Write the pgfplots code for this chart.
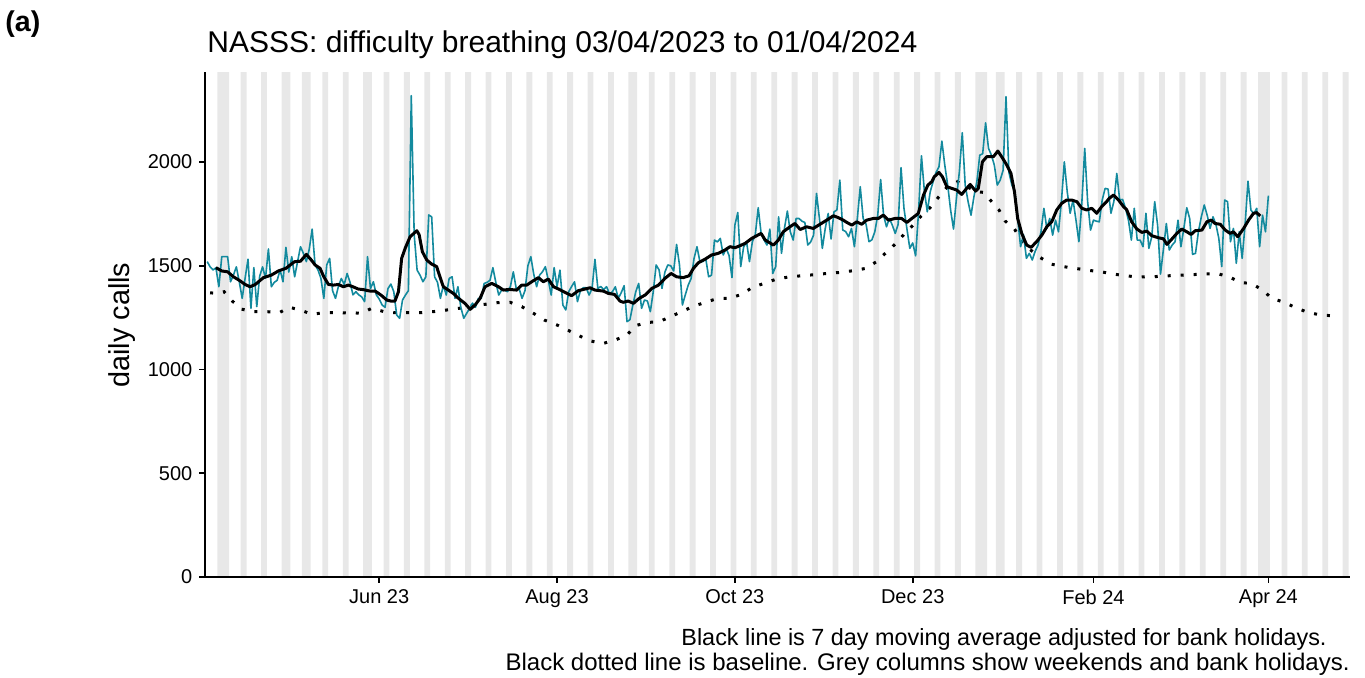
\documentclass[border=0pt]{standalone}
\usepackage{fontspec}
\setmainfont{Liberation Sans}
\usepackage{pgfplots}
\pgfplotsset{compat=1.18}

\definecolor{calls}{HTML}{138A9E}
\definecolor{wkgrey}{HTML}{E8E8E8}

\begin{document}
\begin{tikzpicture}
\useasboundingbox (0pt,0pt) rectangle (682.5pt,338.5pt);
\begin{axis}[
    at={(102.5pt,50pt)}, anchor=south west,
    scale only axis, width=572.5pt, height=252.5pt,
    xmin=-0.755, xmax=392, ymin=0, ymax=2434,
    axis on top,
    axis x line*=bottom, axis y line*=left,
    axis line style={line width=1pt, -},
    tick align=outside, major tick length=2.8pt,
    tick style={black, line width=0.8pt},
    ytick={0,500,1000,1500,2000},
    xtick={59,120,181,242,304,364},
    xticklabels={Jun 23, Aug 23, Oct 23, Dec 23, Feb 24, Apr 24},
    tick label style={font=\fontsize{10}{12}\selectfont},
    /pgf/number format/assume math mode=true,
    /pgf/number format/1000 sep={},
    scaled y ticks=false,
]
% weekends and bank holidays
\addplot[ybar, bar width=1, fill=wkgrey, draw=none] coordinates {
    (4,2500) (5,2500) (6,2500) (7,2500) (12,2500) (13,2500) (19,2500) (20,2500)
    (26,2500) (27,2500) (28,2500) (33,2500) (34,2500) (35,2500) (40,2500) (41,2500)
    (47,2500) (48,2500) (54,2500) (55,2500) (56,2500) (61,2500) (62,2500) (68,2500)
    (69,2500) (75,2500) (76,2500) (82,2500) (83,2500) (89,2500) (90,2500) (96,2500)
    (97,2500) (103,2500) (104,2500) (110,2500) (111,2500) (117,2500) (118,2500)
    (124,2500) (125,2500) (131,2500) (132,2500) (138,2500) (139,2500) (145,2500)
    (146,2500) (147,2500) (152,2500) (153,2500) (159,2500) (160,2500) (166,2500)
    (167,2500) (173,2500) (174,2500) (180,2500) (181,2500) (187,2500) (188,2500)
    (194,2500) (195,2500) (201,2500) (202,2500) (208,2500) (209,2500) (215,2500)
    (216,2500) (222,2500) (223,2500) (229,2500) (230,2500) (236,2500) (237,2500)
    (243,2500) (244,2500) (250,2500) (251,2500) (257,2500) (258,2500) (264,2500)
    (265,2500) (266,2500) (267,2500) (271,2500) (272,2500) (273,2500) (278,2500)
    (279,2500) (285,2500) (286,2500) (292,2500) (293,2500) (299,2500) (300,2500)
    (306,2500) (307,2500) (313,2500) (314,2500) (320,2500) (321,2500) (327,2500)
    (328,2500) (334,2500) (335,2500) (341,2500) (342,2500) (348,2500) (349,2500)
    (355,2500) (356,2500) (361,2500) (362,2500) (363,2500) (364,2500) (369,2500)
    (370,2500) (376,2500) (377,2500) (383,2500) (384,2500) (390,2500) (391,2500)
};
% baseline
\addplot[black, line width=1.5pt, line cap=butt, dash pattern=on 1.5pt off 5pt] coordinates {
    (1,1370) (3,1367) (5.8,1375) (8.6,1330) (11.8,1291) (15.8,1279) (20.4,1279)
    (24.7,1274) (28.2,1300) (32.4,1285) (35.8,1266) (40,1274) (45,1274) (53,1272)
    (56.4,1295) (60.4,1280) (64.4,1274) (73.3,1274) (77.6,1279) (82.2,1287)
    (86.4,1295) (90.7,1306) (95.1,1314) (99.4,1322) (103.9,1324) (107.9,1303)
    (111.9,1271) (115.7,1238) (119.5,1218) (123.7,1190) (127.5,1163) (131.7,1137)
    (135.9,1126) (139.9,1142) (144,1166) (146.8,1211) (151,1227) (155,1230)
    (158.9,1255) (162.8,1279) (166.9,1306) (171,1324) (175.1,1343) (179.1,1343)
    (183.3,1362) (187,1396) (190.8,1414) (195.1,1435) (199.4,1446) (203.9,1452)
    (208.3,1457) (212.5,1463) (217.1,1468) (221.4,1476) (225.7,1487) (229.4,1518)
    (232.6,1560) (235.7,1601) (238.8,1648) (241.9,1693) (244.9,1740) (248,1781)
    (250.8,1830) (253.4,1873) (257.3,1905) (264,1857) (266.2,1854) (269.1,1809)
    (271.6,1769) (273.7,1716) (276.9,1677) (279.4,1622) (282,1581) (285.7,1540)
    (289.5,1508) (293.7,1496) (298,1487) (302.3,1478) (306.6,1471) (310.9,1460)
    (315.4,1451) (319.8,1446) (324.2,1447) (328.6,1451) (332.9,1454) (337.5,1457)
    (341.7,1460) (346.3,1463) (350.5,1447) (354.3,1420) (358.3,1414) (362,1383)
    (365.2,1343) (369.4,1324) (373.4,1298) (377.4,1276) (381.8,1263) (386.1,1259)
    (387,1258)
};
% daily calls
\addplot[calls, line width=0.8pt, line join=round] coordinates {
    (0,1520) (1,1495) (2,1480) (3,1490) (4,1399) (5,1544) (6,1544) (7,1544) (8,1423) (9,1455)
    (10,1495) (11,1423) (12,1343) (13,1440) (14,1532) (15,1295) (16,1491) (17,1303) (18,1450) (19,1495)
    (20,1440) (21,1581) (22,1399) (23,1420) (24,1430) (25,1480) (26,1423) (27,1589) (28,1470) (29,1544)
    (30,1447) (31,1520) (32,1592) (33,1560) (34,1520) (35,1580) (36,1677) (37,1504) (38,1480) (39,1440)
    (40,1343) (41,1504) (42,1536) (43,1380) (44,1343) (45,1400) (46,1439) (47,1410) (48,1463) (49,1420)
    (50,1360) (51,1375) (52,1360) (53,1350) (54,1327) (55,1544) (56,1390) (57,1423) (58,1360) (59,1340)
    (60,1311) (61,1300) (62,1390) (63,1412) (64,1375) (65,1263) (66,1247) (67,1335) (68,1359) (69,1380)
    (70,2320) (71,1650) (72,1479) (73,1455) (74,1423) (75,1447) (76,1745) (77,1736) (78,1447) (79,1420)
    (80,1343) (81,1407) (82,1359) (83,1439) (84,1447) (85,1343) (86,1399) (87,1300) (88,1247) (89,1271)
    (90,1295) (91,1320) (92,1300) (93,1343) (94,1343) (95,1415) (96,1420) (97,1430) (98,1491) (99,1420)
    (100,1359) (101,1383) (102,1383) (103,1375) (104,1400) (105,1471) (106,1390) (107,1390) (108,1343) (109,1380)
    (110,1500) (111,1544) (112,1460) (113,1399) (114,1455) (115,1471) (116,1496) (117,1430) (118,1359) (119,1491)
    (120,1400) (121,1479) (122,1311) (123,1287) (124,1375) (125,1400) (126,1423) (127,1327) (128,1380) (129,1394)
    (130,1394) (131,1359) (132,1390) (133,1531) (134,1391) (135,1400) (136,1385) (137,1399) (138,1365) (139,1375)
    (140,1399) (141,1343) (142,1370) (143,1404) (144,1231) (145,1240) (146,1311) (147,1375) (148,1415) (149,1295)
    (150,1335) (151,1330) (152,1279) (153,1375) (154,1504) (155,1480) (156,1391) (157,1470) (158,1504) (159,1500)
    (160,1475) (161,1603) (162,1504) (163,1311) (164,1360) (165,1407) (166,1439) (167,1536) (168,1592) (169,1520)
    (170,1520) (171,1536) (172,1447) (173,1455) (174,1624) (175,1615) (176,1632) (177,1552) (178,1584) (179,1550)
    (180,1443) (181,1696) (182,1757) (183,1496) (184,1590) (185,1616) (186,1520) (187,1616) (188,1650) (189,1780)
    (190,1656) (191,1625) (192,1600) (193,1677) (194,1463) (195,1496) (196,1736) (197,1560) (198,1680) (199,1764)
    (200,1664) (201,1624) (202,1728) (203,1728) (204,1715) (205,1709) (206,1600) (207,1615) (208,1648) (209,1849)
    (210,1728) (211,1584) (212,1680) (213,1752) (214,1629) (215,1760) (216,1769) (217,1913) (218,1672) (219,1665)
    (220,1640) (221,1680) (222,1592) (223,1728) (224,1881) (225,1728) (226,1700) (227,1616) (228,1625) (229,1664)
    (230,1744) (231,1916) (232,1744) (233,1688) (234,1728) (235,1696) (236,1656) (237,1700) (238,1973) (239,1777)
    (240,1680) (241,1584) (242,1610) (243,1548) (244,1760) (245,2030) (246,1860) (247,1760) (248,1857) (249,1905)
    (250,1950) (251,1977) (252,2101) (253,1985) (254,1889) (255,1769) (256,1677) (257,1825) (258,1953) (259,2141)
    (260,1889) (261,1809) (262,1744) (263,1833) (264,1905) (265,2033) (266,2040) (267,2189) (268,2066) (269,2033)
    (270,1985) (271,1889) (272,1913) (273,1960) (274,2315) (275,1950) (276,1890) (277,1857) (278,1728) (279,1592)
    (280,1650) (281,1536) (282,1560) (283,1528) (284,1570) (285,1600) (286,1664) (287,1777) (288,1680) (289,1728)
    (290,1648) (291,1720) (292,1664) (293,1809) (294,2001) (295,1857) (296,1753) (297,1817) (298,1720) (299,1616)
    (300,1800) (301,2066) (302,1809) (303,1672) (304,1720) (305,1715) (306,1712) (307,1817) (308,1873) (309,1870)
    (310,1753) (311,1810) (312,1945) (313,1817) (314,1820) (315,1777) (316,1720) (317,1624) (318,1777) (319,1624)
    (320,1624) (321,1592) (322,1753) (323,1584) (324,1640) (325,1809) (326,1696) (327,1460) (328,1580) (329,1704)
    (330,1576) (331,1600) (332,1616) (333,1720) (334,1592) (335,1680) (336,1780) (337,1728) (338,1555) (339,1560)
    (340,1664) (341,1736) (342,1793) (343,1744) (344,1680) (345,1736) (346,1700) (347,1632) (348,1496) (349,1817)
    (350,1809) (351,1616) (352,1680) (353,1512) (354,1664) (355,1536) (356,1696) (357,1908) (358,1769) (359,1750)
    (360,1777) (361,1592) (362,1744) (363,1664) (364,1838)
};
% 7 day moving average
\addplot[black, line width=1.5pt, line join=round] coordinates {
    (3,1491) (5,1475) (7,1471) (9,1447) (11,1430) (13,1410) (14.7,1399) (16.5,1410)
    (19.3,1443) (22,1455) (24.4,1475) (27,1488) (30,1520) (32,1522) (34,1555) (35.7,1528)
    (37,1504) (38.7,1488) (40,1447) (41.6,1410) (43.3,1407) (45,1410) (46.7,1399)
    (48.4,1407) (50,1399) (51.8,1388) (53.6,1385) (55.9,1378) (57.6,1378) (59.6,1359)
    (61.6,1335) (63,1330) (64.4,1330) (65.6,1375) (66.7,1536) (67.9,1584) (69.6,1640)
    (71.9,1669) (72.7,1650) (73.8,1568) (75.3,1528) (77,1508) (78.7,1496) (80,1440)
    (81,1399) (82.7,1383) (84.4,1367) (86.2,1343) (88.4,1319) (90.2,1290) (91.9,1311)
    (93.6,1343) (95.3,1399) (97.6,1415) (99.9,1399) (101.6,1383) (103.5,1386) (106.2,1383)
    (107.9,1407) (109.6,1407) (111.3,1423) (113.6,1443) (115.3,1423) (117,1436) (118.8,1399)
    (120.5,1388) (122.7,1372) (125,1356) (127.3,1380) (129.6,1388) (131.3,1394) (133,1383)
    (135.9,1378) (137.6,1367) (139.7,1362) (141.6,1330) (142.7,1324) (144.4,1330) (146.2,1319)
    (148.2,1343) (150.2,1359) (152.5,1391) (154.8,1407) (157,1439) (159.1,1463) (161,1447)
    (163.3,1443) (165.3,1452) (166.8,1488) (168.5,1515) (170.8,1532) (173,1552) (175.3,1560)
    (177.6,1576) (179.3,1592) (181,1587) (182.8,1597) (184.5,1608) (186.8,1632) (188.5,1645)
    (190,1656) (191.4,1624) (194.2,1600) (195.9,1624) (197.6,1664) (199.9,1688) (201.6,1704)
    (203.4,1675) (205.6,1688) (207.9,1680) (210.2,1700) (212.5,1720) (214.8,1741) (216.5,1732)
    (218.2,1720) (219.4,1709) (221.1,1696) (222.8,1712) (224.5,1700) (226.2,1720) (228.5,1728)
    (230.2,1728) (231.9,1744) (233.7,1720) (235.9,1728) (238.2,1728) (240,1709) (241.7,1728)
    (243.9,1752) (245.7,1841) (247.2,1889) (248.5,1905) (249.4,1929) (251,1950) (252.2,1929)
    (253.7,1881) (255.4,1873) (257.1,1865) (258.8,1844) (260.5,1873) (261.7,1892) (263.6,1860)
    (264.5,1873) (265.9,2001) (267.4,2026) (269.7,2026) (271.2,2053) (272.5,2026) (274.3,1985)
    (275.7,1945) (276.9,1857) (278,1728) (279.4,1656) (281.1,1600) (282.6,1589) (284.5,1616)
    (286.3,1648) (288,1688) (289.7,1712) (291.4,1769) (293.1,1801) (294.8,1817) (296.5,1817)
    (298.3,1809) (300,1777) (301.7,1769) (303.4,1777) (305.1,1753) (306.8,1785) (308.5,1809)
    (309.4,1825) (310.9,1841) (312.6,1817) (314.3,1785) (315.4,1770) (317.1,1712) (318.9,1677)
    (320.6,1661) (322.3,1667) (324,1645) (326.3,1635) (328,1630) (329.2,1603) (330.9,1629)
    (332.6,1656) (334.3,1677) (336,1664) (337.5,1651) (338.9,1669) (341.2,1672) (342.9,1712)
    (344.4,1720) (345.7,1704) (347.5,1700) (349.2,1672) (350.9,1656) (352,1664) (353.5,1640)
    (355.5,1680) (357.2,1720) (358.9,1753) (360,1756) (361.2,1740)
};
\end{axis}
\node[anchor=base west, font=\bfseries\fontsize{14.3}{16}\selectfont, inner sep=0pt] at (2.5pt,323pt) {(a)};
\node[anchor=base west, font=\fontsize{15}{18}\selectfont, inner sep=0pt] at (103.5pt,312.5pt) {NASSS: difficulty breathing 03/04/2023 to 01/04/2024};
\node[rotate=90, font=\fontsize{14.4}{17}\selectfont, inner sep=0pt] at (61pt,176pt) {daily calls};
\node[anchor=base east, font=\fontsize{11.7}{14}\selectfont, inner sep=0pt] at (663.5pt,16pt) {Black line is 7 day moving average adjusted for bank holidays.};
\node[anchor=base east, font=\fontsize{12}{14}\selectfont, inner sep=0pt] at (675pt,3.5pt) {Black dotted line is baseline. Grey columns show weekends and bank holidays.};
\end{tikzpicture}
\end{document}
